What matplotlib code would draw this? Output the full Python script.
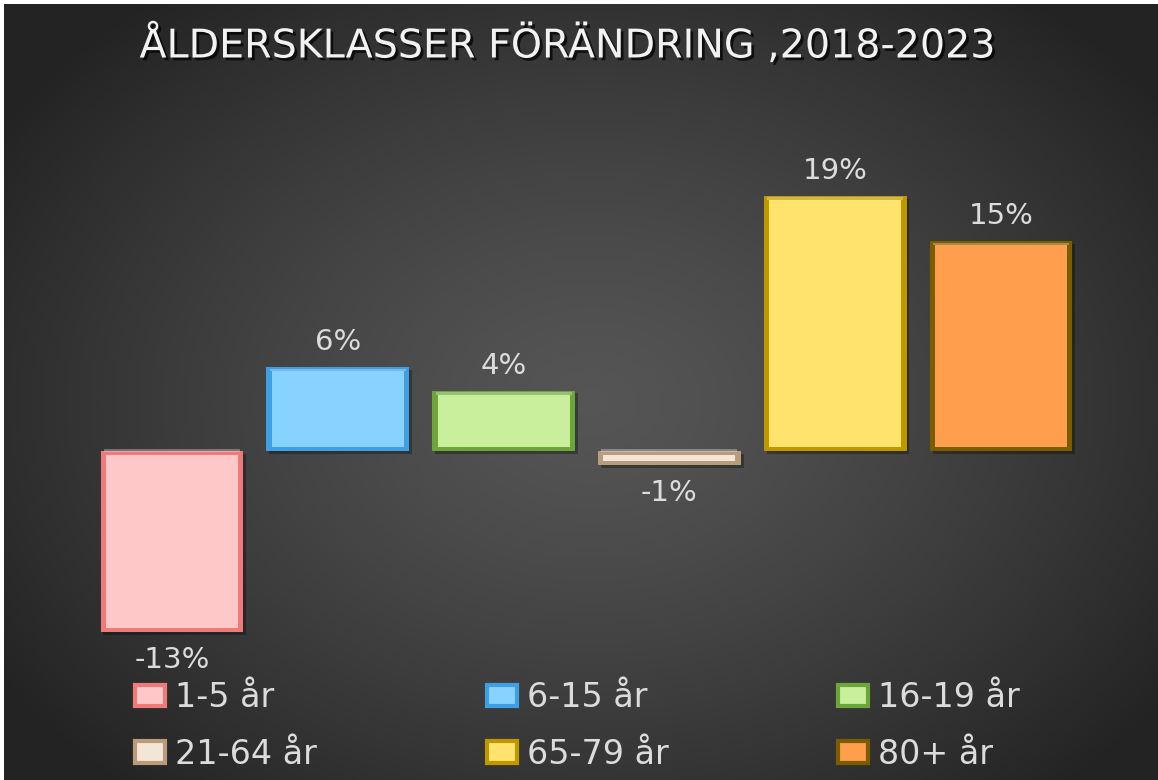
import numpy as np
import matplotlib
matplotlib.use("Agg")
import matplotlib.pyplot as plt
import matplotlib.patheffects as pe
from matplotlib.patches import Patch

plt.rcParams['font.family'] = ['DejaVu Sans']

# data (percent change 2018-2023)
categories = ['1-5 år', '6-15 år', '16-19 år', '21-64 år', '65-79 år', '80+ år']
values = [-13.2, 6.1, 4.4, -1.0, 18.6, 15.3]
labels = ['-13%', '6%', '4%', '-1%', '19%', '15%']
title = 'ÅLDERSKLASSER FÖRÄNDRING ,2018-2023'

fills = ['#FFC8C8', '#88D2FF', '#C9EE9C', '#F3E6D6', '#FFE36C', '#FF9E4C']
edges = ['#F07A7A', '#3F9FE3', '#6CA63A', '#B89C7C', '#BF9800', '#7C5C00']
text_col = '#DCDCDC'

W, H = 1158, 780
fig = plt.figure(figsize=(W / 100, H / 100), dpi=100)
fig.patch.set_facecolor('white')

# dark radial-gradient panel
bg = fig.add_axes([4 / W, 0, 1 - 4 / W, 1 - 4 / H])
yy, xx = np.mgrid[0:H, 0:W]
r = np.sqrt(((xx - 590) / 700.0) ** 2 + ((yy - 400) / 520.0) ** 2)
r = np.clip(r, 0, 1)
shade = 0.335 - 0.195 * r ** 1.3
img = np.dstack([shade, shade, shade])
bg.imshow(img, aspect='auto', extent=[0, 1, 0, 1], origin='upper')
bg.axis('off')

# chart axes
ax = fig.add_axes([89 / W, 1 - 660 / H, (1084 - 89) / W, (660 - 150) / H])
ax.patch.set_alpha(0)
x = np.arange(len(values))
vals = np.array(values)

# outer bevel (darker rim) + inner face
outer = ax.bar(x, vals, width=0.86, color=edges, linewidth=0, zorder=3)
for b in outer:
    b.set_path_effects([pe.SimplePatchShadow(offset=(2, -2), shadow_rgbFace='black',
                                             alpha=0.3), pe.Normal()])
inset = 0.3
sgn = np.sign(vals)
ax.bar(x, vals - sgn * 2 * inset, bottom=sgn * inset, width=0.795, color=fills,
       linewidth=0, zorder=4)
# light top highlight strip
ax.bar(x, sgn * 0.18, bottom=np.maximum(vals, 0) - np.where(vals > 0, 0.3, -0.12),
       width=0.82, color='white', alpha=0.3, linewidth=0, zorder=5)

ax.set_xlim(-0.5, 5.5)
ax.set_ylim(-15.23, 21.94)
ax.axis('off')

for xi, v, lab in zip(x, values, labels):
    if v >= 0:
        ax.annotate(lab, (xi, v), xytext=(0, 8), textcoords='offset points',
                    ha='center', va='bottom', fontsize=21, color=text_col)
    else:
        ax.annotate(lab, (xi, v), xytext=(0, -10), textcoords='offset points',
                    ha='center', va='top', fontsize=21, color=text_col)

fig.text(0.4905, 1 - 45 / H, title, ha='center', va='center', fontsize=28.5,
         color='#F2F2F2',
         path_effects=[pe.SimplePatchShadow(offset=(2, -2), shadow_rgbFace='black',
                                            alpha=0.7), pe.Normal()])

# legend filled row-wise (matplotlib fills column-wise)
order = [0, 3, 1, 4, 2, 5]
handles = [Patch(facecolor=fills[i], edgecolor=edges[i], linewidth=3) for i in order]
fig.legend(handles, [categories[i] for i in order], loc='center left',
           bbox_to_anchor=(118 / W, 1 - 726 / H), borderpad=0,
           ncol=3, frameon=False, fontsize=24, labelcolor=text_col,
           handlelength=0.9, handleheight=0.6, handletextpad=0.3,
           columnspacing=5.1, labelspacing=0.7)

fig.savefig('out.png', dpi=100, facecolor=fig.get_facecolor())
